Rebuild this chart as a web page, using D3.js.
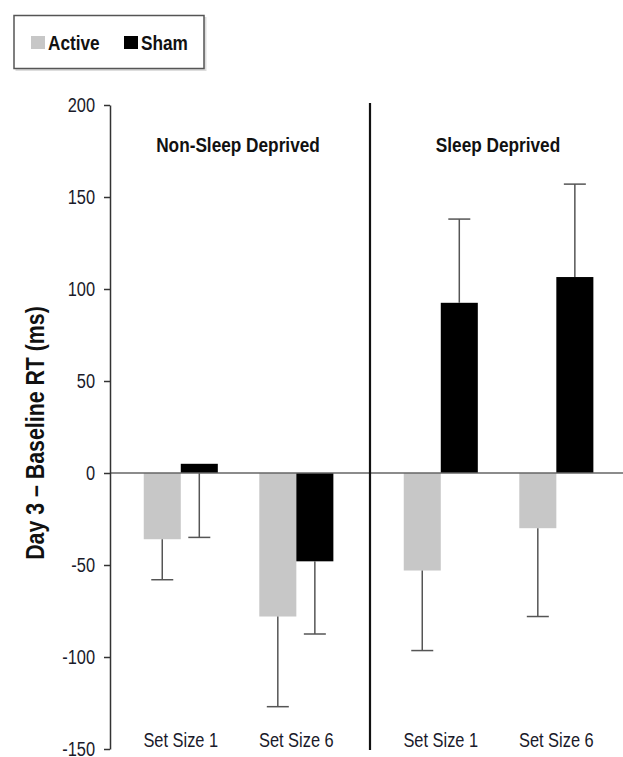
<!DOCTYPE html>
<html>
<head>
<meta charset="utf-8">
<script src="https://cdn.jsdelivr.net/npm/d3@7"></script>
<style>
  body { margin: 0; background: #fff; }
  text { font-family: 'Liberation Sans', Arial, sans-serif; }
</style>
</head>
<body>
<div id="container"></div>
<script>
// panels, groups and series
const conditions = ['Non-Sleep Deprived', 'Sleep Deprived'];
const setSizes = ['Set Size 1', 'Set Size 6'];
const series = ['Active', 'Sham'];

// order: NSD SS1, NSD SS6, SD SS1, SD SS6
const activeMeans = [-36, -78, -53, -30];
const shamMeans = [5, -48, 92.5, 106.5];
// signed error lengths (sign = direction the bar is drawn)
const activeErr = [-22, -49, -43.5, -48];
const shamErr = [-40, -39.5, 45.5, 50.5];

const yTicks = [-150, -100, -50, 0, 50, 100, 150, 200];

const width = 623;
const height = 757;
const colors = { Active: '#c7c7c7', Sham: '#000' };

// squeeze text to look like a narrow face
function narrow(sel) {
    sel.each(function() {
        this.setAttribute('textLength', this.getComputedTextLength() * 0.82);
        this.setAttribute('lengthAdjust', 'spacingAndGlyphs');
    });
}

const svg = d3.select('#container')
    .append('svg')
    .attr('width', width)
    .attr('height', height);

const y = d3.scaleLinear()
    .domain([-150, 200])
    .range([749, 105]);

const xPanel = d3.scaleBand()
    .domain(conditions)
    .range([110, 630]);

const xGroup = d3.scaleBand()
    .domain(setSizes)
    .range([0, xPanel.bandwidth()])
    .paddingOuter(0.125)
    .align(0.45);

const xSeries = d3.scaleBand()
    .domain(series)
    .range([0, xGroup.bandwidth()])
    .paddingOuter(0.56);

// flatten data into rows
let rows = [];
conditions.forEach((c, ci) => {
    setSizes.forEach((s, si) => {
        const i = ci * 2 + si;
        rows.push({ cond: c, size: s, series: 'Active', value: activeMeans[i], err: activeErr[i] });
        rows.push({ cond: c, size: s, series: 'Sham', value: shamMeans[i], err: shamErr[i] });
    });
});
const barX = d => xPanel(d.cond) + xGroup(d.size) + xSeries(d.series);

/* BARS */
svg.append('g')
    .selectAll('rect')
    .data(rows)
    .enter().append('rect')
    .attr('x', barX)
    .attr('width', xSeries.bandwidth())
    .attr('y', d => y(Math.max(0, d.value)))
    .attr('height', d => Math.abs(y(d.value) - y(0)))
    .attr('fill', d => colors[d.series]);

/* ERROR BARS */
const err = svg.append('g')
    .attr('stroke', '#555')
    .attr('stroke-width', 1.5);

err.selectAll('line.stem')
    .data(rows)
    .enter().append('line')
    .attr('class', 'stem')
    .attr('x1', d => barX(d) + xSeries.bandwidth() / 2)
    .attr('x2', d => barX(d) + xSeries.bandwidth() / 2)
    .attr('y1', d => (Math.sign(d.err) === Math.sign(d.value)) ? y(d.value) : y(0))
    .attr('y2', d => y(d.value + d.err));

err.selectAll('line.cap')
    .data(rows)
    .enter().append('line')
    .attr('class', 'cap')
    .attr('x1', d => barX(d) + xSeries.bandwidth() / 2 - 11)
    .attr('x2', d => barX(d) + xSeries.bandwidth() / 2 + 11)
    .attr('y1', d => y(d.value + d.err))
    .attr('y2', d => y(d.value + d.err));

/* ZERO LINE + DIVIDER */
svg.append('line')
    .attr('x1', 110)
    .attr('x2', width)
    .attr('y1', y(0))
    .attr('y2', y(0))
    .attr('stroke', '#666')
    .attr('stroke-width', 1.5);

svg.append('line')
    .attr('x1', xPanel(conditions[1]))
    .attr('x2', xPanel(conditions[1]))
    .attr('y1', 103)
    .attr('y2', 750)
    .attr('stroke', '#111')
    .attr('stroke-width', 2.2);

/* Y AXIS */
const yAxis = svg.append('g')
    .attr('transform', 'translate(110,0)')
    .call(d3.axisLeft(y).tickValues(yTicks).tickFormat(d => String(d))
        .tickSize(6).tickSizeOuter(0).tickPadding(9));

yAxis.select('.domain').attr('stroke', '#333').attr('stroke-width', 1.5);
yAxis.selectAll('.tick line').attr('stroke', '#333').attr('stroke-width', 1.5);
yAxis.attr('font-family', null).attr('font-size', null);
yAxis.selectAll('.tick text')
    .style('font-size', '20px')
    .attr('fill', '#1a1a2a')
    .call(narrow);

svg.append('text')
    .attr('transform', 'translate(44,433) rotate(-90)')
    .attr('text-anchor', 'middle')
    .style('font-size', '26px')
    .style('font-weight', 'bold')
    .attr('fill', '#111')
    .text('Day 3 \u2013 Baseline RT (ms)')
    .call(narrow);

/* PANEL TITLES */
svg.append('g')
    .selectAll('text')
    .data(conditions)
    .enter().append('text')
    .attr('x', d => xPanel(d) + xPanel.bandwidth() / 2 - 2)
    .attr('y', 152)
    .attr('text-anchor', 'middle')
    .style('font-size', '21px')
    .style('font-weight', 'bold')
    .attr('fill', '#111')
    .text(d => d)
    .call(narrow);

/* X LABELS */
let xLabels = [];
conditions.forEach(c => setSizes.forEach(s => xLabels.push({ cond: c, size: s })));
svg.append('g')
    .selectAll('text')
    .data(xLabels)
    .enter().append('text')
    .attr('x', d => xPanel(d.cond) + xGroup(d.size) + xGroup.bandwidth() / 2)
    .attr('y', 747)
    .attr('text-anchor', 'middle')
    .style('font-size', '20px')
    .attr('fill', '#1a1a2a')
    .text(d => d.size)
    .call(narrow);

/* LEGEND */
const legend = svg.append('g').attr('id', 'legend');

legend.append('rect')
    .attr('x', 15.5)
    .attr('y', 17)
    .attr('width', 191)
    .attr('height', 54)
    .attr('fill', '#ddd');

legend.append('rect')
    .attr('x', 14)
    .attr('y', 15.5)
    .attr('width', 190)
    .attr('height', 53)
    .attr('fill', '#fff')
    .attr('stroke', '#555')
    .attr('stroke-width', 1.5);

const legendX = d3.scaleOrdinal().domain(series).range([31, 124]);

legend.selectAll('rect.swatch')
    .data(series)
    .enter().append('rect')
    .attr('class', 'swatch')
    .attr('x', d => legendX(d))
    .attr('y', 36)
    .attr('width', 14)
    .attr('height', 13)
    .attr('fill', d => colors[d]);

legend.selectAll('text')
    .data(series)
    .enter().append('text')
    .attr('x', d => legendX(d) + 17)
    .attr('y', 49.5)
    .style('font-size', '21px')
    .style('font-weight', 'bold')
    .attr('fill', '#111')
    .text(d => d)
    .call(narrow);
</script>
</body>
</html>
